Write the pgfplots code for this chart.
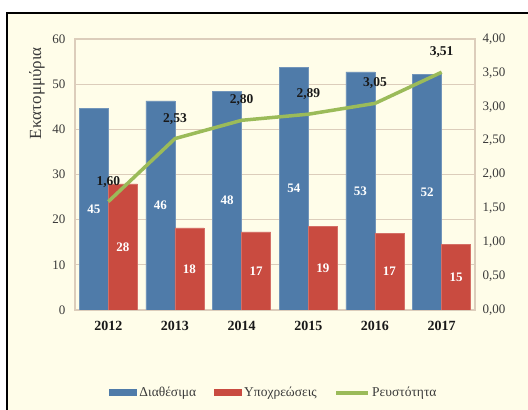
\documentclass[border=0pt]{standalone}
\usepackage{fontspec}
\setmainfont{Liberation Serif}
\usepackage{pgfplots}
\pgfplotsset{compat=1.18}
\definecolor{bgc}{HTML}{FFFDE9}
\definecolor{gridc}{HTML}{DCCDBB}
\definecolor{barblue}{HTML}{4F7BA9}
\definecolor{barred}{HTML}{C94B40}
\definecolor{lgreen}{HTML}{9BBB59}
\definecolor{tickc}{HTML}{3A3A3A}
\pgfplotsset{
  boxleg/.style={legend image code/.code={\fill[##1] (0pt,-3.5pt) rectangle (28pt,3.5pt);}},
  lineleg/.style={legend image code/.code={\draw[##1] (0pt,0pt) -- (32pt,0pt);}},
}
\begin{document}
\begin{tikzpicture}[x=1pt,y=1pt]
\useasboundingbox (0,0) rectangle (528,410);
\fill[white] (0,0) rectangle (528,410);
\fill[bgc] (7,0) rectangle (528,397);
\draw[black,line width=2pt] (7,0) -- (7,397) -- (528,397);
\begin{axis}[at={(75pt,100pt)}, anchor=south west, scale only axis,
  width=400pt, height=271pt,
  ymin=0, ymax=60, ytick={0,10,...,60},
  xmin=-0.5, xmax=5.5, xtick={0,...,5},
  xticklabels={2012,2013,2014,2015,2016,2017},
  ybar=0pt, bar width=29pt,
  axis line style={gridc, line width=1.2pt},
  ymajorgrids, grid style={gridc, line width=1.2pt},
  major tick length=0pt,
  yticklabel style={font=\fontsize{13}{13}\selectfont, text=tickc, xshift=-6pt},
  xticklabel style={font=\fontsize{14}{14}\selectfont\bfseries, text=black!90, yshift=-8pt},
  /pgf/number format/assume math mode=true,
  ylabel={Εκατομμύρια},
  every axis y label/.style={at={(rel axis cs:-0.095,0.8)}, rotate=90, anchor=center,
    font=\fontsize{17}{17}\selectfont, text=tickc},
  visualization depends on={0.5*y \as \halfy},
  nodes near coords={\pgfmathprintnumber[fixed,precision=0]{\pgfplotspointmeta}},
  every node near coord/.append style={anchor=center, shift={(axis direction cs:0,-\halfy)},
    font=\fontsize{13}{13}\selectfont\bfseries, text=white},
]
\addplot[fill=barblue, draw=barblue!80!white] coordinates {(0,44.7) (1,46.3) (2,48.4) (3,53.8) (4,52.7) (5,52.2)};
\addplot[fill=barred, draw=barred!80!white] coordinates {(0,27.9) (1,18.2) (2,17.3) (3,18.5) (4,17.0) (5,14.6)};
\end{axis}
\begin{axis}[at={(75pt,100pt)}, anchor=south west, scale only axis,
  width=400pt, height=271pt,
  ymin=0, ymax=4, ytick={0,0.5,...,4},
  xmin=-0.5, xmax=5.5, xtick=\empty,
  yticklabel pos=right,
  axis line style={draw=none},
  major tick length=0pt,
  yticklabel style={font=\fontsize{13}{13}\selectfont, text=tickc, xshift=4pt,
    /pgf/number format/.cd, use comma, fixed, fixed zerofill, precision=2},
  /pgf/number format/assume math mode=true,
  legend style={at={(0.4975,-0.306)}, anchor=center, draw=none, fill=none,
    font=\fontsize{13.5}{13.5}\selectfont, text=tickc,
    legend columns=3, /tikz/every even column/.append style={column sep=16pt}},
]
\addlegendimage{fill=barblue, draw=none, boxleg}
\addlegendentry{Διαθέσιμα}
\addlegendimage{fill=barred, draw=none, boxleg}
\addlegendentry{Υποχρεώσεις}
\addplot[lgreen, line width=3.5pt, mark=none, lineleg,
  nodes near coords={\pgfmathprintnumber[use comma,fixed,fixed zerofill,precision=2]{\pgfplotspointmeta}},
  every node near coord/.append style={anchor=center, yshift=20pt,
    font=\fontsize{13.5}{13.5}\selectfont\bfseries, text=black!90}]
  coordinates {(0,1.60) (1,2.53) (2,2.80) (3,2.89) (4,3.05) (5,3.51)};
\addlegendentry{Ρευστότητα}
\end{axis}
\end{tikzpicture}
\end{document}
